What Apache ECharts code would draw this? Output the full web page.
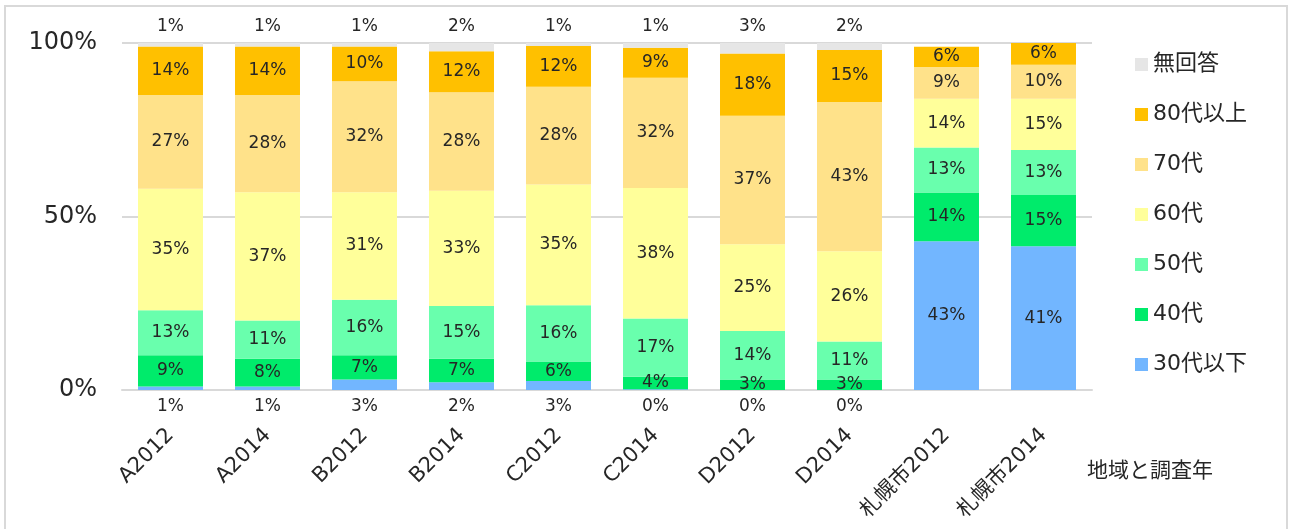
<!DOCTYPE html>
<html>
<head>
<meta charset="utf-8">
<script src="https://cdn.jsdelivr.net/npm/echarts@6/dist/echarts.min.js"></script>
<style>
  html, body { margin: 0; padding: 0; background: #fff; }
</style>
</head>
<body>
<div id="chart" style="width: 1290px; height: 529px"></div>
<script>
// 地域と調査年
const categories = ['A2012', 'A2014', 'B2012', 'B2014', 'C2012', 'C2014', 'D2012', 'D2014', '札幌市2012', '札幌市2014']
const seriesNames = ['30代以下', '40代', '50代', '60代', '70代', '80代以上', '無回答']

// 割合(%) 下から順に
const age30under = [1, 1, 3, 2.2, 2.6, 0.2, 0, 0, 42.9, 41.4]
const age40 = [9, 8, 7, 6.8, 5.6, 3.6, 3, 3, 14.0, 14.8]
const age50 = [13, 11, 16, 15.2, 16.2, 16.8, 14, 11, 13.0, 13.0]
const age60 = [35, 37, 31, 33.2, 34.8, 37.6, 25, 26, 14.0, 14.7]
const age70 = [27, 28, 32, 28.4, 28.2, 31.8, 37, 43, 9.2, 9.8]
const age80over = [14, 14, 10, 11.8, 11.7, 8.6, 18, 15, 5.8, 6.3]
const noAnswer = [1, 1, 1, 2.4, 0.9, 1.4, 3, 2, null, null]

const colors = ['#72B6FF', '#00EB6B', '#69FFAD', '#FFFF9A', '#FFE28A', '#FFC000', '#E6E6E6']
const FONT = "'DejaVu Sans', 'Noto Sans CJK JP', sans-serif"
const TEXT = '#262626'

const fmt = (p) => (p.value == null ? '' : Math.round(p.value) + '%')

const chart = echarts.init(document.getElementById('chart'))

function makeSeries(name, values, idx) {
  let data = values
  let label = {
    show: true,
    position: 'inside',
    fontSize: 17,
    fontFamily: FONT,
    color: TEXT,
    formatter: fmt
  }
  if (idx === 0) {
    // 30代以下: 地域は棒の下、札幌市は棒の中
    data = values.map((v, i) =>
      i < 8 ? { value: v, label: { position: 'bottom', distance: 8 } } : v
    )
  }
  if (idx === 6) {
    label = Object.assign({}, label, { position: 'top', distance: 8 })
  }
  return {
    name: name,
    type: 'bar',
    stack: 'total',
    barWidth: '67%',
    itemStyle: { color: colors[idx] },
    label: label,
    emphasis: { disabled: true },
    data: data
  }
}

const allValues = [age30under, age40, age50, age60, age70, age80over, noAnswer]

chart.setOption({
  animation: false,
  textStyle: { fontFamily: FONT },
  title: {
    text: '地域と調査年',
    left: 1082,
    top: 456,
    textStyle: { fontSize: 21, fontWeight: 'normal', color: TEXT, fontFamily: FONT }
  },
  legend: {
    orient: 'vertical',
    left: 1130,
    top: 48,
    itemWidth: 13,
    itemHeight: 13,
    itemGap: 27,
    icon: 'rect',
    textStyle: { fontSize: 22, color: TEXT, fontFamily: FONT, lineHeight: 23 },
    data: ['無回答', '80代以上', '70代', '60代', '50代', '40代', '30代以下']
  },
  graphic: [
    {
      type: 'rect',
      shape: { x: 5, y: 6, width: 1282, height: 530 },
      style: { fill: 'none', stroke: '#D9D9D9', lineWidth: 2 },
      silent: true
    }
  ],
  grid: { left: 122, right: 198, top: 43, bottom: 139 },
  xAxis: {
    type: 'category',
    data: categories,
    axisLine: { show: true, lineStyle: { color: '#D9D9D9', width: 2 } },
    axisTick: { show: false },
    axisLabel: {
      rotate: 45,
      margin: 42,
      fontSize: 21,
      color: TEXT,
      fontFamily: FONT,
      interval: 0
    }
  },
  yAxis: {
    type: 'value',
    min: 0,
    max: 100,
    interval: 50,
    axisLine: { show: false },
    axisTick: { show: false },
    axisLabel: {
      formatter: '{value}%',
      fontSize: 24,
      color: TEXT,
      fontFamily: FONT,
      margin: 25
    },
    splitLine: { lineStyle: { color: '#D9D9D9', width: 2 } }
  },
  series: seriesNames.map((n, i) => makeSeries(n, allValues[i], i))
})

window.addEventListener('resize', () => {
  chart.resize()
})
</script>
</body>
</html>
